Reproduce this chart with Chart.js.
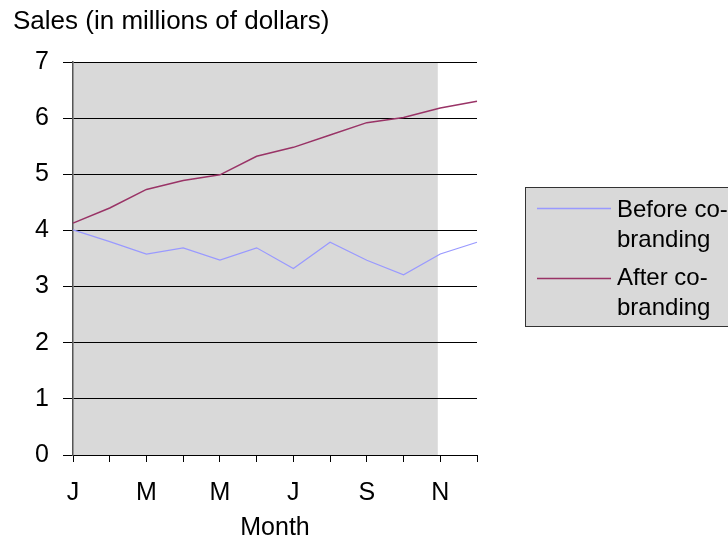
<!DOCTYPE html>
<html>
<head>
<meta charset="utf-8">
<script src="https://cdn.jsdelivr.net/npm/chart.js@4/dist/chart.umd.min.js"></script>
<style>
  html, body { margin: 0; padding: 0; background: #ffffff; }
  #wrap { width: 728px; height: 540px; }
</style>
</head>
<body>
<div id="wrap"><canvas id="c" width="728" height="540"></canvas></div>
<script>
const months = ['J', 'F', 'M', 'A', 'M', 'J', 'J', 'A', 'S', 'O', 'N', 'D'];
const beforeSales = [4.01, 3.80, 3.58, 3.69, 3.47, 3.69, 3.32, 3.79, 3.47, 3.21, 3.58, 3.79];
const afterSales = [4.13, 4.40, 4.73, 4.89, 4.99, 5.32, 5.48, 5.70, 5.92, 6.01, 6.18, 6.30];
const seriesNames = ['Before co-branding', 'After co-branding'];
const seriesColors = ['#9999FF', '#993366'];
const yTitle = 'Sales (in millions of dollars)';
const xTitle = 'Month';
const yTicks = [0, 1, 2, 3, 4, 5, 6, 7];

const FONT = '"Liberation Sans", Arial, Helvetica, sans-serif';
const FS = 25;
const FS_TITLE = 26;
const FS_LEGEND = 24;

const plotBg = {
  id: 'plotBg',
  beforeDraw(chart) {
    const { ctx, chartArea, scales } = chart;
    const xEnd = scales.x.getPixelForValue(months.length - 2) - 2.5;
    ctx.save();
    ctx.fillStyle = '#D9D9D9';
    ctx.fillRect(chartArea.left, chartArea.top, xEnd - chartArea.left, chartArea.bottom - chartArea.top);
    ctx.restore();
  }
};

const boxLegend = {
  id: 'boxLegend',
  afterDraw(chart) {
    const { ctx } = chart;
    const bx = 525.5, by = 187.5, bw = 220, bh = 139;
    ctx.save();
    ctx.fillStyle = '#D9D9D9';
    ctx.fillRect(bx, by, bw, bh);
    ctx.strokeStyle = '#333333';
    ctx.lineWidth = 1;
    ctx.strokeRect(bx, by, bw, bh);
    ctx.font = FS_LEGEND + 'px ' + FONT;
    ctx.fillStyle = '#000000';
    ctx.textBaseline = 'alphabetic';
    ctx.textAlign = 'left';
    chart.data.datasets.forEach((ds, i) => {
      const lines = ds.label.replace('co-', 'co-\n').split('\n');
      const baseY = 217 + i * 68;
      const lineY = 208.5 + i * 70;
      ctx.strokeStyle = ds.borderColor;
      ctx.lineWidth = 1.5;
      ctx.beginPath();
      ctx.moveTo(537, lineY);
      ctx.lineTo(611, lineY);
      ctx.stroke();
      lines.forEach((t, k) => {
        ctx.fillText(t, 617, baseY + k * 30);
      });
    });
    ctx.restore();
  }
};

new Chart(document.getElementById('c'), {
  type: 'line',
  data: {
    labels: months,
    datasets: [
      { label: seriesNames[0], data: beforeSales, borderColor: seriesColors[0], backgroundColor: seriesColors[0], borderWidth: 1.2, pointRadius: 0, tension: 0 },
      { label: seriesNames[1], data: afterSales, borderColor: seriesColors[1], backgroundColor: seriesColors[1], borderWidth: 1.5, pointRadius: 0, tension: 0 }
    ]
  },
  options: {
    responsive: false,
    animation: false,
    devicePixelRatio: 1,
    layout: { padding: { left: 13, right: 251, top: 0, bottom: 0 } },
    plugins: {
      legend: { display: false },
      tooltip: { enabled: false },
      title: {
        display: true,
        text: yTitle,
        align: 'start',
        color: '#000000',
        font: { family: FONT, size: FS_TITLE, weight: 'normal' },
        padding: { top: 6, bottom: 24.8 }
      }
    },
    scales: {
      x: {
        type: 'category',
        offset: false,
        grid: { display: true, drawOnChartArea: false, drawTicks: true, tickLength: 7, color: '#000000', lineWidth: 1 },
        border: { display: true, color: '#000000', width: 1 },
        ticks: {
          autoSkip: false,
          maxRotation: 0,
          padding: 16,
          color: '#000000',
          font: { family: FONT, size: FS },
          callback: (v, i) => (i % 2 === 0 ? months[i] : '')
        },
        title: { display: true, text: xTitle, color: '#000000', font: { family: FONT, size: FS }, padding: { top: 0, bottom: -3 } },
        afterFit: (s) => { s.height = 85; }
      },
      y: {
        min: yTicks[0],
        max: yTicks[yTicks.length - 1],
        afterBuildTicks: (s) => { s.ticks = yTicks.map(v => ({ value: v })); },
        grid: { display: true, drawOnChartArea: true, drawTicks: true, tickLength: 10, color: '#000000', lineWidth: 1 },
        border: { display: true, color: '#555555', width: 1.5 },
        ticks: { padding: 14, color: '#000000', font: { family: FONT, size: FS } },
        afterFit: (s) => { s.width = 60; }
      }
    }
  },
  plugins: [plotBg, boxLegend]
});
</script>
</body>
</html>
